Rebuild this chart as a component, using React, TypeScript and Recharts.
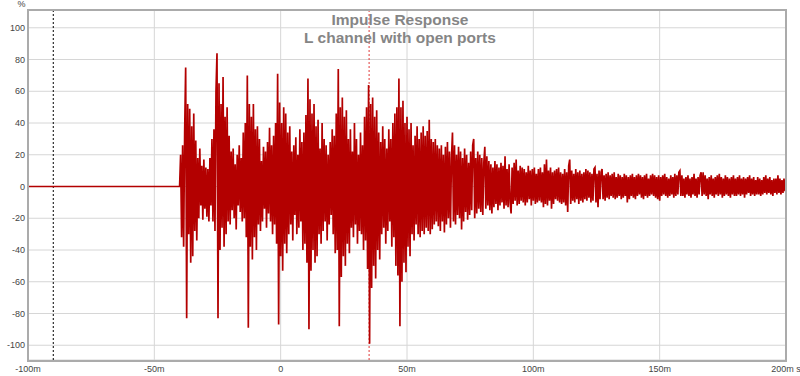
import { LineChart, Line, XAxis, YAxis, CartesianGrid, ReferenceLine } from 'recharts';

const xTicks = [-100, -50, 0, 50, 100, 150, 200];
const xTickLabels = ['-100m', '-50m', '0', '50m', '100m', '150m', '200m s'];
const yTicks = [-100, -80, -60, -40, -20, 0, 20, 40, 60, 80, 100];

// flat part before the sound arrives (ms, %)
const leadIn = [
  { t: -100, v: 0 },
  { t: -40, v: 0 },
];

// sampled response, one value every sampleStep ms from startTime
const startTime = -39.6;
const sampleStep = 0.4;
const samples = [
  // burst 1
  20, -32, 26, -38, 34, 75, -83, 52, -30, 49, -48, 38, -44, 46, -28, 29, -34, 18,
  -20, 24, -12, 13, -21, 17, -14, 12, -19, 11, -22, 18, -12, 30, -22, 36, -28, 60,
  // burst 2
  84, -83, 65, -40, 52, -26, 69, -38, 44, -30, 50, -22, 32, -24, 22,
  -15, 24, -20, 14, -27, 20, -12, 26, -16, 18, -22, 34, -20, 40, -32,
  // burst 3
  70, -89, 52, -38, 44, -46, 52, -32, 36, -40, 38, -24, 30, -28, 16,
  -22, 25, -14, 22, -26, 28, -17, 37, -22, 26, -30, 32, -24, 40, -36,
  // burst 4
  71, -87, 53, -44, 40, -53, 50, -36, 46, -42, 34, -30, 38, -24, 22,
  -34, 26, -18, 31, -30, 20, -26, 36, -22, 28, -40, 34, -36, 45, -48,
  // burst 5
  68, -90, 55, -53, 46, -40, 52, -48, 38, -44, 42, -30, 24, -36, 40,
  -28, 30, -22, 26, -34, 20, -24, 28, -18, 36, -30, 32, -42, 46, -40,
  // burst 6
  74, -88, 50, -57, 56, -44, 44, -50, 48, -36, 30, -42, 36, -26, 22,
  -32, 40, -24, 30, -36, 20, -28, 34, -30, 26, -40, 44, -34, 50, -52,
  // burst 7
  64, -99, 52, -64, 56, -50, 44, -58, 48, -40, 34, -46, 28, -30, 38,
  -26, 30, -36, 24, -28, 36, -22, 30, -38, 40, -32, 46, -50, 50, -56,
  // burst 8
  68, -88, 50, -60, 54, -48, 40, -54, 44, -38,
  36, -44, 40, -30, 26, -34, 32, -24, 38, -30,
  // decay
  30, -32, 34, -28, 38, -30, 32, -26, 35, -28,
  42, -30, 30, -27, 28, -24, 30, -22, 26, -25,
  24, -28, 26, -22, 20, -29, 25, -24, 28, -20,
  22, -26, 18, 34, -22, 26, -24, 20, -18, 25,
  -20, 22, -27, 18, -22, 24, -16, 20, -21, 15,
  -18, 22, -15, 26, 30, -20, 18, -17, 22, -14,
  20, -16, 18, -18, 15, 25, -14, 19, -12, 16,
  -15, 14, -17, 12, -13, 16, -11, 14, -15, 12,
  -12, 15, -10, 13, -14, 19, -12, 11, -13, 14,
  -10, -17, 12, -11, 15, -9, 17, -12, 10, -11,
  13, -9, 12, -10, 11, -12, 9, -10, 13, -8,
  10, -12, 11, -9, 12, -11, 8, -10, 11, -9,
  12, -10, 9, -13, 14, -11, 17, -12, 10, -9,
  12, -14, 9, -11, 10, -8, 11, -9, 12, -10,
  9, -11, 8, -10, 11, -12, 9, -16, 13, 17,
  -11, 10, -9, 8, -10, 11, -8, 9, -11, 10,
  -9, 8, -10, 9, -8, 11, -9, 10, -7, 9,
  -10, 8, -9, 11, 12, -10, 8, -13, 10, -8,
  9, 11, -8, 7, -9, 8, -7, 9, -8, 7,
  -6, 8, -7, 9, -8, 6, -7, 8, -6, 7,
  -8, 6, -7, 8, -6, 7, -10, 6, -8, 7,
  -6, 8, -7, 6, -8, 7, -6, 8, -5, 7,
  -7, 6, -8, 7, -6, 8, -7, 5, -6, 7,
  -5, 8, -6, 7, -7, 6, -8, 7, -9, 6,
  -6, 7, -5, 8, -6, 6, -7, 5, -6, 7,
  -5, 6, -7, 8, -6, 7, -5, 9, 10, -6,
  7, -6, 5, -7, 6, -5, 7, -6, 5, -7,
  6, -5, 8, -6, 5, -7, 6, -5, 7, 9,
  -6, 9, -5, 7, -6, 5, -8, 6, -5, 7,
  -6, 5, -7, 6, -5, 7, -6, 8, -5, 6,
  -7, 5, -6, 7, -5, 6, -6, 5, -7, 6,
  -5, 7, -6, 5, -6, 6, -5, 7, -6, 5,
  -5, 6, -7, 5, -5, 6, -4, 7, -6, 5,
  -5, 6, -6, 4, -5, 6, -5, 5, -6, 4,
  -5, 6, -4, 7, -5, 5, -4, 6, -5, 4,
  -6, 5, -4, 5, -5, 7, -4, 5, -5, 4,
  -4, 5, -3, 4,
];

const markerLeft = -90;
const markerRight = 35;

const data = [
  ...leadIn,
  ...samples.map((v, i) => ({ t: +(startTime + i * sampleStep).toFixed(2), v })),
];

const tickStyle = { fill: '#444', fontSize: 9, fontFamily: '"Liberation Sans", Arial, sans-serif' };

const App = () => {
  return (
    <div style={{ position: 'absolute', left: 0, top: 0, width: 800, height: 376, background: '#fff' }}>
      <LineChart width={800} height={376} data={data} margin={{ top: 10, right: 14, bottom: 0, left: 0 }}>
        <CartesianGrid stroke="#d6d6d6" />
        <XAxis
          dataKey="t"
          type="number"
          domain={[-100, 200]}
          ticks={xTicks}
          interval={0}
          tickFormatter={(v: number) => xTickLabels[xTicks.indexOf(v)]}
          height={16}
          tickSize={0}
          tickMargin={6}
          axisLine={false}
          tick={tickStyle}
          allowDataOverflow
        />
        <YAxis
          type="number"
          domain={[-109.3, 111.2]}
          ticks={yTicks}
          interval={0}
          width={28}
          tickSize={0}
          tickMargin={3}
          axisLine={false}
          tick={tickStyle}
          allowDataOverflow
        />
        <ReferenceLine x={markerLeft} stroke="#000" strokeDasharray="2 2" />
        <ReferenceLine x={markerRight} stroke="#e03a3a" strokeDasharray="2 2" />
        <Line
          dataKey="v"
          type="linear"
          stroke="#b30000"
          strokeWidth={1.7}
          dot={false}
          isAnimationActive={false}
        />
      </LineChart>
      <div
        style={{
          position: 'absolute',
          left: 27,
          top: 9,
          width: 760,
          height: 353,
          boxSizing: 'border-box',
          border: '2px solid #ababab',
          pointerEvents: 'none',
        }}
      />
      <div
        style={{
          position: 'absolute',
          left: 14,
          top: 0,
          width: 15,
          textAlign: 'center',
          fontSize: 9,
          lineHeight: '9px',
          fontFamily: '"Liberation Sans", Arial, sans-serif',
          color: '#444',
        }}
      >
        %
      </div>
      <div
        style={{
          position: 'absolute',
          left: 200,
          top: 11,
          width: 400,
          textAlign: 'center',
          fontSize: 15.5,
          lineHeight: '17.5px',
          fontWeight: 'bold',
          fontFamily: '"Liberation Sans", Arial, sans-serif',
          color: '#858585',
          pointerEvents: 'none',
        }}
      >
        <div>Impulse Response</div>
        <div>L channel with open ports</div>
      </div>
    </div>
  );
};

export default App;
